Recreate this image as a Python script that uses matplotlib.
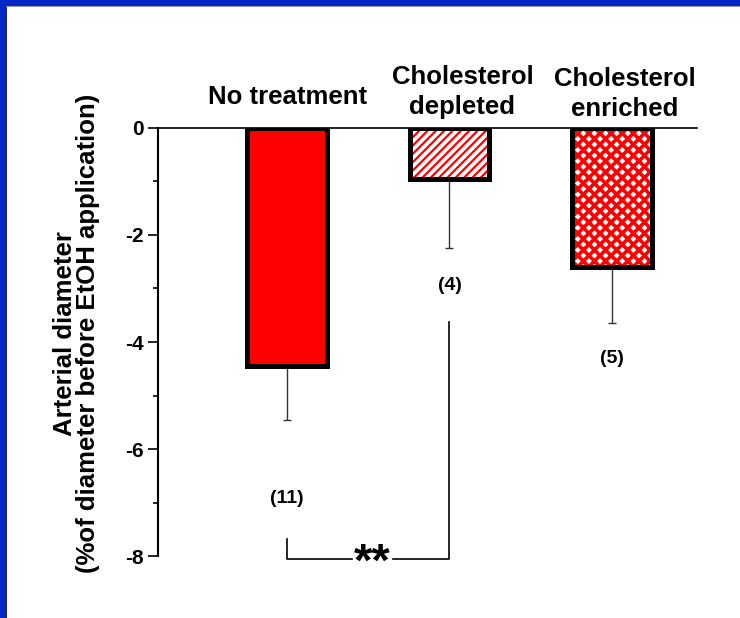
import matplotlib.pyplot as plt
from matplotlib.patches import Rectangle
from matplotlib.lines import Line2D
from matplotlib.ticker import MultipleLocator

# data
categories = ['No treatment', 'Cholesterol\ndepleted', 'Cholesterol\nenriched']
means = [-4.45, -0.95, -2.6]
sem = [1.0, 1.3, 1.05]
n_labels = ['(11)', '(4)', '(5)']
yticks = [0, -2, -4, -6, -8]

plt.rcParams['font.family'] = ['Liberation Sans', 'DejaVu Sans']
plt.rcParams['font.weight'] = 'bold'
plt.rcParams['axes.unicode_minus'] = False
plt.rcParams['hatch.linewidth'] = 1.6

fig = plt.figure(figsize=(7.4, 6.18), dpi=100)
ax = fig.add_axes([0.2135, 0.1003, 0.7284, 0.6926])

x = [0, 1, 2]
width = 0.49
red = '#ff0000'

# error bars (downward only) behind the bars
ax.errorbar(x, means, yerr=[sem, [0, 0, 0]], fmt='none', ecolor='#333333',
            elinewidth=1.0, capsize=3.2, capthick=1.0, zorder=1)

# fills
ax.bar(x[0], means[0], width, color=red, linewidth=0, zorder=2)
ax.bar(x[1], means[1], width, color='white', edgecolor=red, hatch='////',
       linewidth=0, zorder=2)
enr = ax.bar(x[2], means[2], width, color='white', edgecolor=red, hatch='xxx',
             linewidth=0, zorder=2)
for p in enr:
    if hasattr(p, 'set_hatch_linewidth'):
        p.set_hatch_linewidth(2.6)
# black outlines
ax.bar(x, means, width, fill=False, edgecolor='black', linewidth=3.6, zorder=3)

ax.set_xlim(-0.796, 2.525)
ax.set_ylim(-8, 0)
ax.set_xticks([])
ax.set_yticks(yticks)
ax.yaxis.set_minor_locator(MultipleLocator(1))
ax.tick_params(axis='y', which='major', length=7, width=1.2, pad=3.5,
               labelsize=15)
ax.tick_params(axis='y', which='minor', length=3.5, width=1.2)
for lab in ax.get_yticklabels():
    lab.set_fontweight('bold')

ax.spines['right'].set_visible(False)
ax.spines['bottom'].set_visible(False)
ax.spines['left'].set_linewidth(1.5)
ax.spines['top'].set_linewidth(1.2)

# category labels above the bars
label_x = [0, 1.08, 2.08]
label_y = [0.58, 0.67, 0.63]
for lx, name, ly in zip(label_x, categories, label_y):
    ax.text(lx, ly, name, ha='center', va='center', fontsize=18.5,
            fontweight='bold', linespacing=1.3, clip_on=False)

# n labels
n_y = [-6.93, -2.95, -4.3]
for xi, lab, ny in zip(x, n_labels, n_y):
    ax.text(xi, ny, lab, ha='center', va='center', fontsize=14,
            fontweight='bold')

# significance bracket
ax.plot([0, 0, 0.4], [-7.68, -8.06, -8.06], color='black', lw=1.2,
        clip_on=False)
ax.plot([0.65, 1.0, 1.0], [-8.06, -8.06, -3.63], color='black', lw=1.2,
        clip_on=False)
ax.text(0.525, -8.15, '**', ha='center', va='center', fontsize=34,
        fontweight='bold', clip_on=False)

# y label
ax.text(-0.152, 0.52, 'Arterial diameter\n(%of diameter before EtOH application)',
        transform=ax.transAxes, rotation=90, ha='center', va='center',
        fontsize=18.5, fontweight='bold', linespacing=0.95,
        multialignment='center')

# blue frame on the left and top
blue = '#0527c6'
fig.patches.append(Rectangle((0, 0), 5 / 740, 1, transform=fig.transFigure,
                             color=blue, zorder=10))
fig.patches.append(Rectangle((0, 1 - 4 / 618), 1, 4 / 618,
                             transform=fig.transFigure, color=blue, zorder=10))
fig.lines.append(Line2D([5.5 / 740, 5.5 / 740], [0, 1 - 4 / 618],
                        transform=fig.transFigure, color='black', lw=1.2))
fig.lines.append(Line2D([5 / 740, 1], [1 - 4.5 / 618, 1 - 4.5 / 618],
                        transform=fig.transFigure, color='black', lw=1.2))
fig.lines.append(Line2D([6 / 740, 1], [1 - 5.8 / 618, 1 - 5.8 / 618],
                        transform=fig.transFigure, color='#999999', lw=0.8))

fig.savefig('out.png', dpi=100)
